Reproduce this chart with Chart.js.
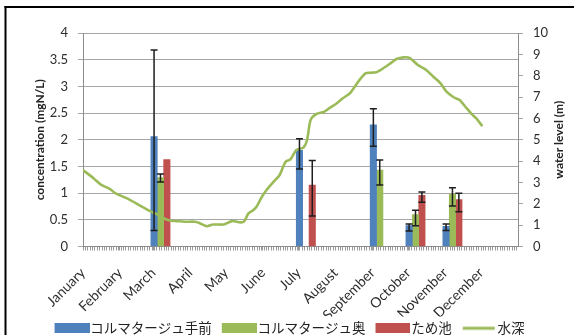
<!DOCTYPE html>
<html><head><meta charset="utf-8">
<script src="https://cdn.jsdelivr.net/npm/chart.js@4"></script>
<style>html,body{margin:0;padding:0;background:#fff;}</style>
</head><body>
<canvas id="c" width="574" height="335"></canvas>
<script>
const monthNames = ['January','February','March','April','May','June','July','August','September','October','November','December'];
const monthStartDays = [0,31,59,90,120,151,181,212,243,273,304,334];

const sampleDays = [65, 187, 249, 279, 310];
const frontValues  = [2.06, 1.80, 2.28, 0.39, 0.38];
const frontErrLow  = [0.30, 1.45, 1.88, 0.29, 0.30];
const frontErrHigh = [3.68, 2.02, 2.58, 0.42, 0.42];
const backValues   = [1.29, null, 1.43, 0.60, 0.98];
const backErrLow   = [1.21, null, 1.15, 0.39, 0.76];
const backErrHigh  = [1.36, null, 1.62, 0.68, 1.10];
const pondValues   = [1.63, 1.15, null, 0.96, 0.88];
const pondErrLow   = [null, 0.57, null, 0.83, 0.65];
const pondErrHigh  = [null, 1.61, null, 1.02, 1.00];

const levelDays = [0,9,15,23,27,37,49,59,62,69,74,79,85,94,98,104,109,118,125,132,135,139,143,146,150,154,160,165,170,174,179,185,188,191,196,202,207,213,218,224,228,232,237,241,246,252,258,263,269,274,281,288,294,300,305,311,316,322,326,330,335];
const levelValues = [3.58,3.19,2.9,2.68,2.5,2.25,1.88,1.58,1.52,1.29,1.21,1.19,1.16,1.16,1.09,0.95,1.03,1.03,1.19,1.13,1.16,1.56,1.71,1.90,2.32,2.65,3.04,3.35,3.97,4.08,4.52,4.64,4.99,5.93,6.21,6.30,6.49,6.71,6.94,7.18,7.48,7.80,8.11,8.14,8.16,8.35,8.58,8.78,8.86,8.83,8.50,8.27,7.95,7.64,7.25,6.99,6.86,6.47,6.21,6.00,5.64];

const seriesNames = ['コルマタージュ手前','コルマタージュ奥','ため池','水深'];
const leftTitle = 'concentration (mgN/L)';
const rightTitle = 'water level (m)';

function barPoints(vals, lo, hi) {
  const out = [];
  sampleDays.forEach((d, i) => {
    if (vals[i] != null) out.push({x: d, y: vals[i], lo: lo[i], hi: hi[i]});
  });
  return out;
}

const tickFont = {family: 'Lato', size: 13};
const monthFont = {family: 'Lato', size: 14};
const titleFont = {family: 'Lato', size: 12, weight: 'bold'};
const textColor = '#2e2e2e';
const gridColor = '#a6a6a6';

// legend swatches: 46px wide image, colour block on its right part
function swatch(color, kind) {
  const c = document.createElement('canvas');
  c.width = 46; c.height = 10;
  const g = c.getContext('2d');
  if (kind === 'line') {
    g.strokeStyle = color; g.lineWidth = 3;
    g.beginPath(); g.moveTo(12, 5); g.lineTo(44, 5); g.stroke();
  } else {
    g.fillStyle = color; g.fillRect(11, 0, 35, 10);
  }
  return c;
}

const errorBars = {
  id: 'errorBars',
  afterDatasetsDraw(chart) {
    const ctx = chart.ctx, ys = chart.scales.y;
    ctx.save();
    ctx.strokeStyle = '#1e1e1e';
    ctx.lineWidth = 1.5;
    chart.data.datasets.forEach((ds, di) => {
      if (ds.type === 'line') return;
      const meta = chart.getDatasetMeta(di);
      meta.data.forEach((el, j) => {
        const p = ds.data[j];
        if (p.lo == null || p.hi == null) return;
        const x = el.x, y1 = ys.getPixelForValue(p.lo), y2 = ys.getPixelForValue(p.hi);
        const cw = 3.5;
        ctx.beginPath();
        ctx.moveTo(x, y1); ctx.lineTo(x, y2);
        ctx.moveTo(x - cw, y1); ctx.lineTo(x + cw, y1);
        ctx.moveTo(x - cw, y2); ctx.lineTo(x + cw, y2);
        ctx.stroke();
      });
    });
    ctx.restore();
  }
};

const decor = {
  id: 'decor',
  afterDraw(chart) {
    const ctx = chart.ctx, ca = chart.chartArea, r = chart.scales.y1;
    ctx.save();
    ctx.fillStyle = '#000';
    ctx.fillRect(4.5, 6, chart.width, 2);
    ctx.fillRect(4.5, 6, 2, chart.height);
    ctx.fillStyle = '#222';
    ctx.font = 'bold 12px Lato';
    ctx.textAlign = 'center';
    ctx.textBaseline = 'middle';
    ctx.translate(r.right - 15, (ca.top + ca.bottom) / 2);
    ctx.rotate(-Math.PI / 2);
    ctx.fillText(rightTitle, 0, 0);
    ctx.restore();
  }
};

new Chart(document.getElementById('c'), {
  type: 'bar',
  data: {
    datasets: [
      {label: seriesNames[0], data: barPoints(frontValues, frontErrLow, frontErrHigh), backgroundColor: '#4F81BD', borderWidth: 0, barThickness: 6.4, yAxisID: 'y', order: 1},
      {label: seriesNames[1], data: barPoints(backValues, backErrLow, backErrHigh), backgroundColor: '#9BBB59', borderWidth: 0, barThickness: 6.4, yAxisID: 'y', order: 1},
      {label: seriesNames[2], data: barPoints(pondValues, pondErrLow, pondErrHigh), backgroundColor: '#C0504D', borderWidth: 0, barThickness: 6.4, yAxisID: 'y', order: 1},
      {type: 'line', label: seriesNames[3], data: levelDays.map((d, i) => ({x: d, y: levelValues[i]})), borderColor: '#9BBB59', backgroundColor: '#9BBB59', borderWidth: 2.6, pointRadius: 0, tension: 0.25, yAxisID: 'y1', order: 0}
    ]
  },
  options: {
    responsive: false,
    animation: false,
    layout: {padding: {left: 0, right: 0, top: 33, bottom: -10}},
    scales: {
      x: {
        type: 'linear', min: 0, max: 365, offset: false,
        afterBuildTicks(scale) {
          const vals = new Set(monthStartDays);
          for (let d = 0; d <= 365; d += 2) vals.add(d);
          scale.ticks = [...vals].sort((a, b) => a - b).map(v => ({value: v}));
        },
        afterFit(s) { s.height = 70; },
        ticks: {
          autoSkip: false, minRotation: 45, maxRotation: 45, padding: 14,
          color: textColor, font: monthFont,
          callback(v) { const i = monthStartDays.indexOf(v); return i >= 0 ? monthNames[i] : ''; }
        },
        grid: {drawOnChartArea: false, offset: false, tickLength: 4, color: '#9a9a9a'},
        border: {color: '#8c8c8c'}
      },
      y: {
        position: 'left', min: 0, max: 4,
        afterFit(s) { s.width = 83; },
        ticks: {stepSize: 0.5, padding: 10, color: textColor, font: tickFont, callback: v => String(Number(v.toFixed(1)))},
        grid: {color: gridColor, tickLength: 5},
        border: {color: '#8c8c8c'},
        title: {display: true, text: leftTitle, color: '#222', font: titleFont, padding: {top: 33, bottom: 0}}
      },
      y1: {
        position: 'right', min: 0, max: 10,
        afterFit(s) { s.width = 56; },
        ticks: {stepSize: 1, padding: 10, color: textColor, font: tickFont},
        grid: {drawOnChartArea: false, color: gridColor, tickLength: 5},
        border: {color: '#8c8c8c'}
      }
    },
    plugins: {
      tooltip: {enabled: false},
      legend: {
        position: 'bottom',
        labels: {
          usePointStyle: true, pointStyleWidth: 34, boxWidth: 34, boxHeight: 10, padding: 5,
          color: '#222', font: {family: '"Noto Sans CJK JP"', size: 13.5},
          sort: (a, b) => a.datasetIndex - b.datasetIndex,
          generateLabels(chart) {
            const items = Chart.defaults.plugins.legend.labels.generateLabels(chart);
            items.forEach(it => {
              const ds = chart.data.datasets[it.datasetIndex];
              it.pointStyle = ds.type === 'line' ? swatch(ds.borderColor, 'line') : swatch(ds.backgroundColor, 'rect');
              it.lineWidth = 0;
            });
            return items;
          }
        }
      }
    }
  },
  plugins: [errorBars, decor]
});
</script>
</body></html>
